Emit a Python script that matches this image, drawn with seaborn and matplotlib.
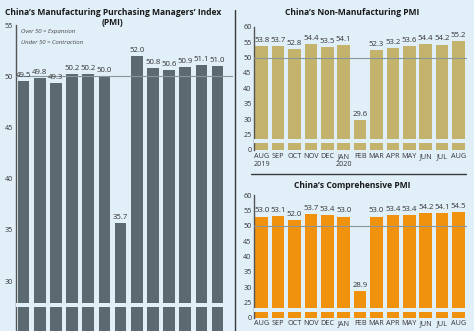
import numpy as np
import pandas as pd
import matplotlib
matplotlib.use("Agg")
import matplotlib.pyplot as plt
import seaborn as sns

months = ["AUG\n2019", "SEP", "OCT", "NOV", "DEC", "JAN\n2020", "FEB",
          "MAR", "APR", "MAY", "JUN", "JUL", "AUG"]
months_short = ["AUG", "SEP", "OCT", "NOV", "DEC", "JAN", "FEB",
                "MAR", "APR", "MAY", "JUN", "JUL", "AUG"]
mfg = [49.5, 49.8, 49.3, 50.2, 50.2, 50.0, 35.7, 52.0, 50.8, 50.6, 50.9, 51.1, 51.0]
nonmfg = [53.8, 53.7, 52.8, 54.4, 53.5, 54.1, 29.6, 52.3, 53.2, 53.6, 54.4, 54.2, 55.2]
comp = [53.0, 53.1, 52.0, 53.7, 53.4, 53.0, 28.9, 53.0, 53.4, 53.4, 54.2, 54.1, 54.5]

title_left = ["China\u2019s Manufacturing Purchasing Managers\u2019 Index", "(PMI)"]
title_nonmfg = "China\u2019s Non-Manufacturing PMI"
title_comp = "China\u2019s Comprehensive PMI"
left_ticks = [30, 35, 40, 45, 50, 55]
right_ticks = [0, 25, 30, 35, 40, 45, 50, 55, 60]
notes = ["Over 50 = Expansion", "Under 50 = Contraction"]

BG = "#e1eff9"
C_MFG = "#5b6a70"
C_NON = "#c3b36d"
C_COMP = "#f0920e"
TXT = "#333333"

sns.set_style("white")
plt.rcParams["font.family"] = ["Open Sans", "DejaVu Sans"]

W, H = 474, 331
fig = plt.figure(figsize=(W / 100, H / 100), dpi=100)
fig.patch.set_facecolor(BG)


def make_scale(B, k):
    def fwd(y):
        y = np.asarray(y, dtype=float)
        return np.where(y >= B, y, B - (B - y) * k)

    def inv(t):
        t = np.asarray(t, dtype=float)
        return np.where(t >= B, t, B - (B - t) / k)
    return fwd, inv


def panel(rect, values, color, B, k, ylim_top, ticks, brk, xlim, width, xlabels):
    ax = fig.add_axes(rect)
    ax.set_facecolor(BG)
    df = pd.DataFrame({"month": months, "value": values})
    sns.barplot(data=df, x="month", y="value", order=months, color=color,
                width=width, saturation=1, linewidth=0, edgecolor="none",
                ax=ax, zorder=2)
    ax.set_yscale("function", functions=make_scale(B, k))
    ax.set_ylim(0, ylim_top)
    ax.set_xlim(*xlim)
    ax.set_yticks(ticks)
    ax.set_yticklabels([str(t) for t in ticks])
    ax.set_xticks(range(len(months)))
    if xlabels is None:
        ax.set_xticklabels([])
    else:
        ax.set_xticklabels(xlabels)
    ax.set_xlabel("")
    ax.set_ylabel("")
    ax.tick_params(axis="both", length=0, labelsize=5.2, colors=TXT, pad=2)
    ax.tick_params(axis="x", pad=2.5)
    for lbl in ax.get_xticklabels():
        lbl.set_linespacing(1.05)
    for s in ["top", "right", "bottom"]:
        ax.spines[s].set_visible(False)
    ax.spines["left"].set_color("#555555")
    ax.spines["left"].set_linewidth(1.0)
    ax.axhline(50, color="#8a9599", lw=0.8, zorder=3)
    ax.axhspan(brk[0], brk[1], color=BG, zorder=4, lw=0)
    ax.bar_label(ax.containers[0], labels=[f"{v:.1f}" for v in values],
                 padding=1.5, fontsize=5.6, color=TXT)
    return ax


# Left: manufacturing PMI
axL = panel([15.5 / W, 1 - 334 / H, 217.5 / W, 309 / H], mfg, C_MFG,
            28, 0.113, 55, left_ticks, (23.0, 26.9), (-0.5, 12.95), 0.72, None)
axL.text(0.027, 0.978, notes[0], transform=axL.transAxes, fontsize=4.3,
         style="italic", color="#444444", va="center")
axL.text(0.027, 0.943, notes[1], transform=axL.transAxes, fontsize=4.3,
         style="italic", color="#444444", va="center")

# Right top: non-manufacturing
axR1 = panel([254.3 / W, 1 - 150 / H, 212.7 / W, 123.3 / H], nonmfg, C_NON,
             25, 0.2, 60, right_ticks, (10.7, 17.2), (-0.45, 12.52), 0.77, months)
# Right bottom: comprehensive
axR2 = panel([254.3 / W, 1 - 318 / H, 212.7 / W, 123 / H], comp, C_COMP,
             25, 0.2, 60, right_ticks, (9.5, 15.5), (-0.45, 12.52), 0.77, months_short)
axR2.tick_params(axis="x", pad=1.5)

# Titles
fig.text(113 / W, 1 - 12.7 / H, title_left[0], ha="center", va="center",
         fontsize=6.1, fontweight="bold", color="#1a1a1a")
fig.text(112 / W, 1 - 22.7 / H, title_left[1], ha="center", va="center",
         fontsize=6.1, fontweight="bold", color="#1a1a1a")
fig.text(351.7 / W, 1 - 12.7 / H, title_nonmfg, ha="center", va="center",
         fontsize=6.1, fontweight="bold", color="#1a1a1a")
fig.text(351.7 / W, 1 - 185 / H, title_comp, ha="center", va="center",
         fontsize=6.1, fontweight="bold", color="#1a1a1a")

# Divider lines
fig.add_artist(plt.Line2D([234.6 / W, 234.6 / W], [1 - 10 / H, 0], color="#3a3a3a", lw=1.0))
fig.add_artist(plt.Line2D([251 / W, 466 / W], [1 - 174 / H, 1 - 174 / H], color="#3a3a3a", lw=1.0))

fig.savefig("out.png", dpi=100, facecolor=BG)
